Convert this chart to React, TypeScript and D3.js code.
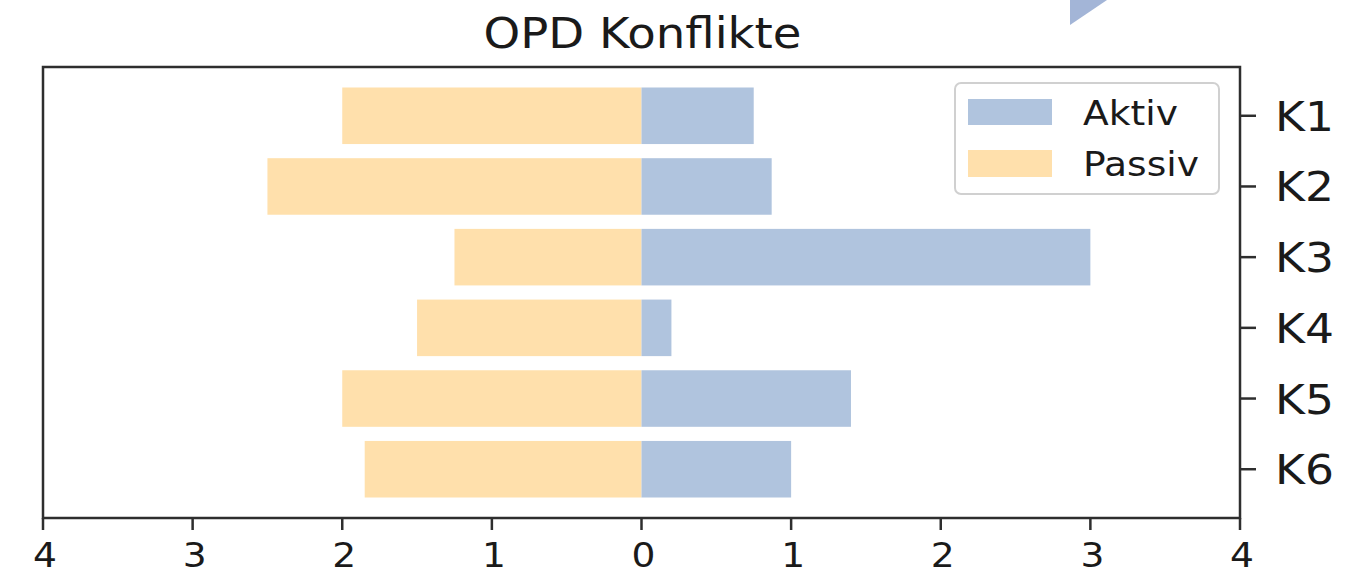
import React from "react";
import * as d3 from "d3";

const categories = ["K1", "K2", "K3", "K4", "K5", "K6"];
const aktiv = [0.75, 0.87, 3.0, 0.2, 1.4, 1.0];
const passiv = [2.0, 2.5, 1.25, 1.5, 2.0, 1.85];
const xTicks = [-4, -3, -2, -1, 0, 1, 2, 3, 4];
const title = "OPD Konflikte";
const seriesNames = ["Aktiv", "Passiv"];

const W = 1365;
const H = 570;
const left = 43;
const right = 1240;
const top = 67;
const bottom = 518;
const blue = "#B0C4DE";
const orange = "#FFE0AC";
const axisColor = "#2e2e2e";
const font = "DejaVu Sans, sans-serif";
const sx = 1.14;

export default function App() {
  const x = d3.scaleLinear().domain([-4, 4]).range([left, right]);
  const y = d3.scaleLinear().domain([-0.69, 5.69]).range([top, bottom]);
  const bh = y(0.4) - y(-0.4);

  const T = (px: number, py: number, txt: string, size: number, anchor: string, s = sx) => (
    <g transform={`translate(${px},${py}) scale(${s},1)`}>
      <text x={0} y={0} fontSize={size} fontFamily={font} textAnchor={anchor} fill="#1a1a1a">
        {txt}
      </text>
    </g>
  );

  return (
    <svg width={W} height={H} style={{ position: "absolute", left: 0, top: 0, background: "#fff" }}>
      <polygon points="1070,0 1107,0 1070,25" fill="#A3B5D7" />
      {T((left + right) / 2 + 1, 48, title, 42, "middle", 1.11)}
      {categories.map((c, i) => (
        <g key={c}>
          <rect x={x(-passiv[i])} y={y(i) - bh / 2} width={x(0) - x(-passiv[i])} height={bh} fill={orange} />
          <rect x={x(0)} y={y(i) - bh / 2} width={x(aktiv[i]) - x(0)} height={bh} fill={blue} />
        </g>
      ))}
      <rect x={left} y={top} width={right - left} height={bottom - top} fill="none" stroke={axisColor} strokeWidth={2.5} />
      {xTicks.map((t) => (
        <g key={t}>
          <line x1={x(t)} x2={x(t)} y1={bottom} y2={bottom + 12} stroke={axisColor} strokeWidth={2.5} />
          {T(x(t) + 2, 567, String(Math.abs(t)), 33, "middle")}
        </g>
      ))}
      {categories.map((c, i) => (
        <g key={c}>
          <line x1={right} x2={right + 16} y1={y(i)} y2={y(i)} stroke={axisColor} strokeWidth={2.5} />
          {T(right + 35, y(i) + 15, c, 40, "start")}
        </g>
      ))}
      <rect x={955} y={83} width={264} height={111} rx={6} fill="#fff" fillOpacity={0.8} stroke="#d0d0d0" strokeWidth={2} />
      <rect x={968} y={99} width={84} height={26} fill={blue} />
      <rect x={968} y={150} width={84} height={27} fill={orange} />
      {T(1083, 125, seriesNames[0], 33, "start")}
      {T(1083, 176, seriesNames[1], 33, "start")}
    </svg>
  );
}
